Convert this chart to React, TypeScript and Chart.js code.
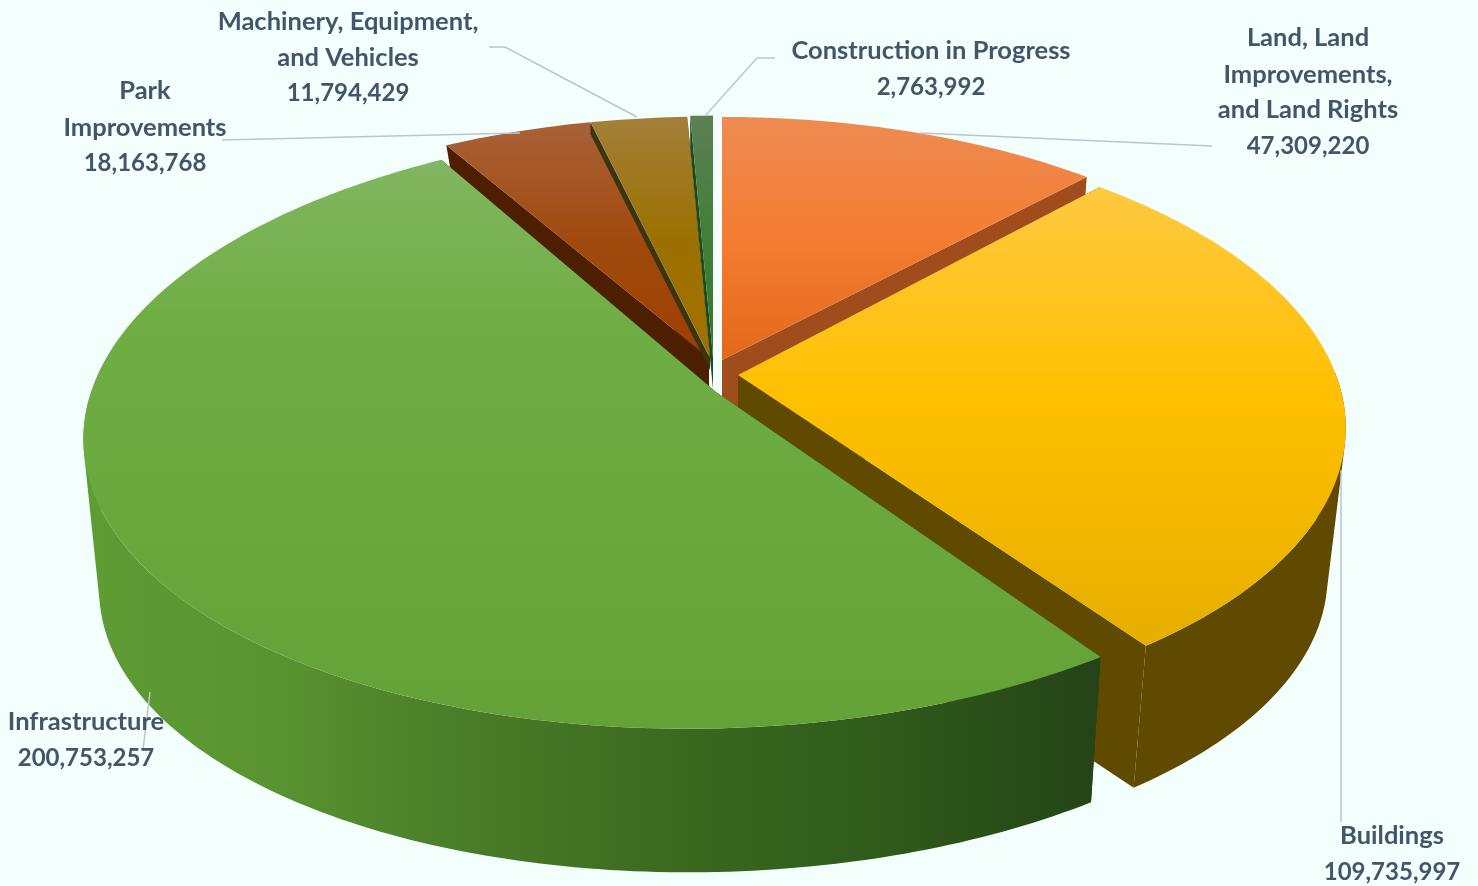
import React, { useEffect, useRef } from "react";
import { Chart, registerables } from "chart.js";

Chart.register(...registerables);

// ---- data ----
const categories = [
  "Land, Land Improvements, and Land Rights",
  "Buildings",
  "Infrastructure",
  "Park Improvements",
  "Machinery, Equipment, and Vehicles",
  "Construction in Progress",
];
const values = [47309220, 109735997, 200753257, 18163768, 11794429, 2763992];

// ---- style & layout (not data) ----
const BG = "#f3fffc";
const TEXT = "#44546a";
const LEADER = "#b9c5d2";
const FONT = "700 25.5px Lato, Carlito, 'Open Sans', sans-serif";
const FONT_NUM = "700 24px Lato, Carlito, 'Open Sans', sans-serif";
const baseColors = ["#ed7d31", "#ffc000", "#70ad47", "#a04400", "#9c7000", "#3f7f35"];

type Stops = [number, string][];
const topStops: Stops[] = [
  [[117, "#ee8b52"], [240, "#f47d31"], [360, "#e4681a"]],
  [[187, "#ffc940"], [400, "#ffc000"], [646, "#e6ae00"]],
  [[160, "#82b661"], [320, "#6fae44"], [730, "#64a238"]],
  [[124, "#a96138"], [240, "#a04a0e"], [360, "#9e3f00"]],
  [[117, "#a47f3a"], [240, "#9c7000"], [360, "#a07200"]],
  [[117, "#5c8052"], [250, "#3f7f35"], [360, "#3a7230"]],
];
const wallColors = ["#a04c1c", "#5f4a00", "#264516", "#4e1e00", "#3a3410", "#1f4a1a"];
const sideColors = ["#a04c1c", "#5f4a00", "", "#4e1e00", "#3a3410", "#1f4a1a"];
const greenSideStops: [number, string][] = [
  [0, "#5e9c34"], [0.18, "#5a9431"], [0.35, "#4c7f29"], [0.6, "#3a681f"], [0.8, "#2f5a1b"], [1, "#254417"],
];

// one projection per slice: apex, disc radii, perspective, shear, extrusion
type View = { ax: number; ay: number; R: number; Ry: number; k: number; s: number; rot: number; dy: number; sc: number };
const views: View[] = [
  { ax: 722, ay: 360, R: 590, Ry: 282, k: 0.16, s: 0, rot: 0, dy: 150, sc: 0.97 },
  { ax: 738, ay: 375, R: 598, Ry: 289, k: 0.157, s: -0.045, rot: 0, dy: 150, sc: 0.97 },
  { ax: 716, ay: 392, R: 625, Ry: 298, k: 0.115, s: 0.085, rot: -1, dy: 152, sc: 0.975 },
  { ax: 709, ay: 358, R: 595, Ry: 280, k: 0.16, s: 0, rot: 0, dy: 40, sc: 0.97 },
  { ax: 710, ay: 358, R: 595, Ry: 280, k: 0.16, s: 0, rot: 0, dy: 12, sc: 1 },
  { ax: 713, ay: 357, R: 595, Ry: 280, k: 0.16, s: 0, rot: 0, dy: 32, sc: 1 },
];
const drawOrder = [3, 4, 5, 0, 1, 2];

const labelLines: string[][] = [
  ["Land, Land", "Improvements,", "and Land Rights"],
  ["Buildings"],
  ["Infrastructure"],
  ["Park", "Improvements"],
  ["Machinery, Equipment,", "and Vehicles"],
  ["Construction in Progress"],
];
const labelAnchors: { x: number; ys: number[] }[] = [
  { x: 1308, ys: [38, 75, 110, 146] },
  { x: 1392, ys: [836, 872] },
  { x: 86, ys: [722, 758] },
  { x: 145, ys: [91, 128, 163] },
  { x: 348, ys: [22, 58, 93] },
  { x: 931, ys: [51, 87] },
];
const leaders: [number, number][][] = [
  [[1212, 146], [920, 133]],
  [[1341, 470], [1341, 822]],
  [[150, 692], [143, 750]],
  [[222, 140], [520, 133]],
  [[489, 47], [505, 47], [637, 117]],
  [[775, 58], [757, 58], [705, 116]],
];

const fmt = (n: number) => n.toLocaleString("en-US");

type Pt = [number, number];

function project(v: View, a: number, r: number, lower: boolean): Pt {
  const t = a + (v.rot * Math.PI) / 180;
  const uu = r * Math.cos(t);
  const vv = r * Math.sin(t);
  const w = 1 - v.k * vv;
  const yy = (v.Ry * vv) / w;
  const xx = (v.R * uu) / w - v.s * yy;
  return lower ? [v.ax + v.sc * xx, v.ay + v.dy + v.sc * yy] : [v.ax + xx, v.ay + yy];
}

function sampleAngles(a0: number, a1: number) {
  const n = Math.max(2, Math.ceil(((a1 - a0) * 180) / Math.PI));
  const out: number[] = [];
  for (let i = 0; i <= n; i++) out.push(a0 + ((a1 - a0) * i) / n);
  return out;
}

function tracePoly(ctx: CanvasRenderingContext2D, pts: Pt[]) {
  pts.forEach((p, i) => (i ? ctx.lineTo(p[0], p[1]) : ctx.moveTo(p[0], p[1])));
  ctx.closePath();
}

function fillPoly(ctx: CanvasRenderingContext2D, pts: Pt[], fill: string | CanvasGradient) {
  ctx.beginPath();
  tracePoly(ctx, pts);
  ctx.fillStyle = fill;
  ctx.fill();
}

function area(p: Pt[]) {
  let s = 0;
  for (let i = 0; i < p.length; i++) {
    const q = p[(i + 1) % p.length];
    s += p[i][0] * q[1] - q[0] * p[i][1];
  }
  return s;
}

const pie3d = {
  id: "pie3d",
  beforeDatasetDraw(chart: any) {
    const ctx: CanvasRenderingContext2D = chart.ctx;
    const arcs = chart.getDatasetMeta(0).data;
    ctx.save();
    for (const i of drawOrder) {
      const { startAngle, endAngle } = arcs[i];
      const v = views[i];
      const angles = sampleAngles(startAngle, endAngle);
      const top = angles.map((a) => project(v, a, 1, false));
      const bot = angles.map((a) => project(v, a, 1, true));
      const apexT = project(v, 0, 0, false);
      const apexB = project(v, 0, 0, true);
      // radial walls
      fillPoly(ctx, [apexT, top[0], bot[0], apexB], wallColors[i]);
      fillPoly(ctx, [apexT, top[top.length - 1], bot[bot.length - 1], apexB], wallColors[i]);
      // outer side: the front half of the rim only, swept as one path of like-wound quads
      let side: string | CanvasGradient = sideColors[i];
      if (!side) {
        const g = ctx.createLinearGradient(90, 0, 1090, 0);
        greenSideStops.forEach(([p, c]) => g.addColorStop(p, c));
        side = g;
      }
      ctx.beginPath();
      for (let q = 0; q < top.length - 1; q++) {
        if (Math.sin(angles[q]) < 0 && Math.sin(angles[q + 1]) < 0) continue;
        const quad: Pt[] = [top[q], top[q + 1], bot[q + 1], bot[q]];
        tracePoly(ctx, area(quad) < 0 ? quad.reverse() : quad);
      }
      ctx.fillStyle = side;
      ctx.fill("nonzero");
      // top face
      const stops = topStops[i];
      const y0 = stops[0][0];
      const y1 = stops[stops.length - 1][0];
      const tg = ctx.createLinearGradient(0, y0, 0, y1);
      stops.forEach(([y, c]) => tg.addColorStop((y - y0) / (y1 - y0), c));
      fillPoly(ctx, [apexT, ...top], tg);
    }
    ctx.restore();
    return false;
  },
  afterDraw(chart: any) {
    const ctx: CanvasRenderingContext2D = chart.ctx;
    ctx.save();
    ctx.strokeStyle = LEADER;
    ctx.lineWidth = 1.5;
    leaders.forEach((pts) => {
      ctx.beginPath();
      pts.forEach((p, i) => (i ? ctx.lineTo(p[0], p[1]) : ctx.moveTo(p[0], p[1])));
      ctx.stroke();
    });
    ctx.fillStyle = TEXT;
    ctx.textAlign = "center";
    ctx.textBaseline = "middle";
    labelAnchors.forEach((a, i) => {
      labelLines[i].forEach((t, j) => {
        ctx.font = FONT;
        ctx.fillText(t, a.x, a.ys[j]);
      });
      ctx.font = FONT_NUM;
      ctx.fillText(fmt(values[i]), a.x, a.ys[labelLines[i].length]);
    });
    ctx.restore();
  },
};

export default function App() {
  const ref = useRef<HTMLCanvasElement>(null);
  useEffect(() => {
    document.body.style.margin = "0";
    document.body.style.background = BG;
    const chart = new Chart(ref.current as HTMLCanvasElement, {
      type: "pie",
      data: {
        labels: categories,
        datasets: [{ data: values, backgroundColor: baseColors, borderWidth: 0 }],
      },
      options: {
        responsive: false,
        animation: false,
        plugins: { legend: { display: false }, tooltip: { enabled: false } },
      },
      plugins: [pie3d],
    } as any);
    return () => chart.destroy();
  }, []);
  return (
    <canvas
      ref={ref}
      width={1478}
      height={886}
      style={{ display: "block", width: 1478, height: 886, background: BG, filter: "blur(0.6px)" }}
    />
  );
}
